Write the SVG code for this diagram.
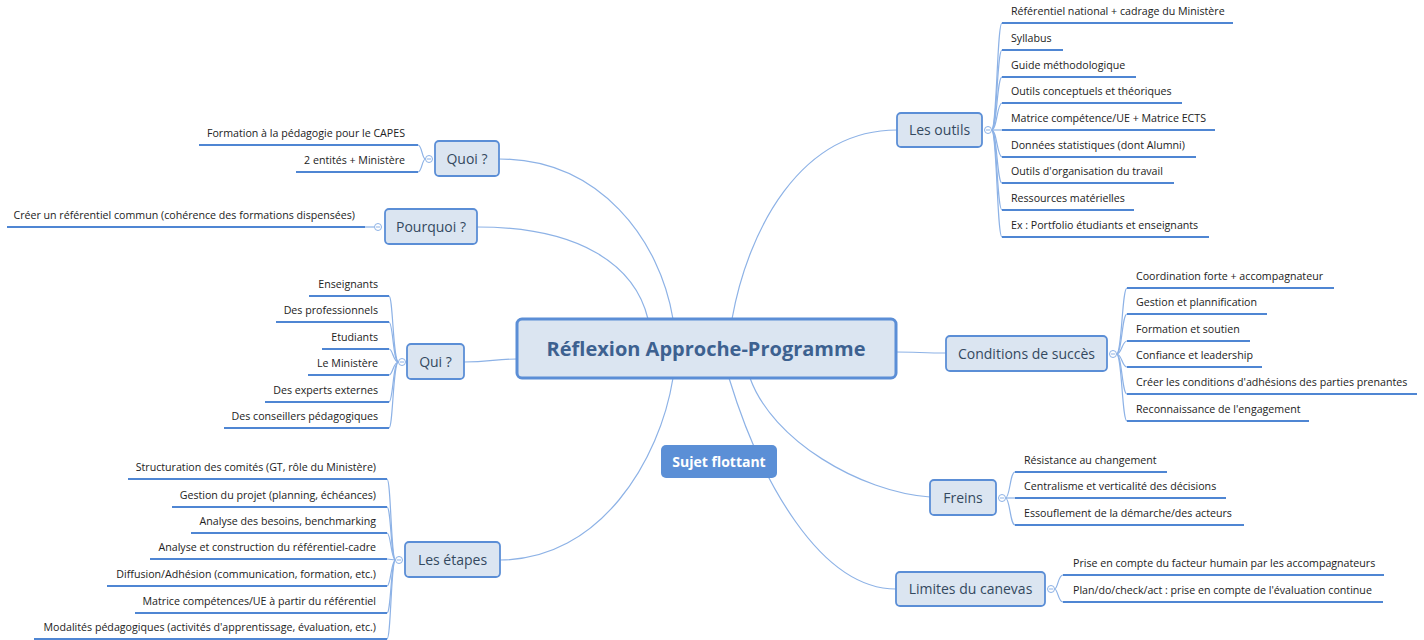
<svg xmlns="http://www.w3.org/2000/svg" width="1424" height="640" viewBox="0 0 1424 640">
<style>
.bg{fill:#ffffff}
.conn{fill:none;stroke:#8db2e6;stroke-width:1.2}
.ul{fill:none;stroke:#4f86d3;stroke-width:2.2}
.box{fill:#dbe5f1;stroke:#5b8ed6;stroke-width:1.8}
.central{fill:#dbe5f1;stroke:#5b8ed6;stroke-width:3}
.float{fill:#5b8fd6;stroke:none}
.lbl{font-family:"Open Sans","DejaVu Sans",sans-serif;font-size:14px;fill:#34495f;text-anchor:middle;dominant-baseline:central}
.clbl{font-family:"Open Sans","DejaVu Sans",sans-serif;font-size:20px;font-weight:bold;fill:#3d6190;text-anchor:middle;dominant-baseline:central}
.flbl{font-family:"Open Sans","DejaVu Sans",sans-serif;font-size:14px;font-weight:bold;fill:#ffffff;text-anchor:middle;dominant-baseline:central}
.t{font-family:"Open Sans","DejaVu Sans",sans-serif;font-size:10.65px;fill:#222222}
.tl{text-anchor:end}
.tr{text-anchor:start}
.col{fill:#ffffff;stroke:#8db2e6;stroke-width:1}
.mn{stroke:#8db2e6;stroke-width:1}
</style>
<rect class="bg" x="0" y="0" width="1424" height="640"/>

<g id="connectors">
  <path class="conn" d="M499,159 C600,159 660,240 673,319"/>
  <path class="conn" d="M477,227 C580,227 635,265 648,319"/>
  <path class="conn" d="M464,362 C490,362 495,359 517,359"/>
  <path class="conn" d="M500,560 C600,560 660,460 673,378"/>
  <path class="conn" d="M897,130 C800,130 748,230 732,319"/>
  <path class="conn" d="M946,353 C925,353 915,352 896,352"/>
  <path class="conn" d="M930,497 C860,492 772,440 750,378"/>
  <path class="conn" d="M896,589 C820,589 760,480 729,378"/>

  <path class="conn" d="M425.5,159 C422,159 422,145 418,145"/>
  <path class="conn" d="M425.5,159 C422,159 422,172 418,172"/>
  <path class="conn" d="M374.5,227 L365,227"/>
  <path class="conn" d="M398.5,362 C393,362 393,296 389,296"/>
  <path class="conn" d="M398.5,362 C393,362 393,322 389,322"/>
  <path class="conn" d="M398.5,362 C393,362 393,349 389,349"/>
  <path class="conn" d="M398.5,362 C393,362 393,375 389,375"/>
  <path class="conn" d="M398.5,362 C393,362 393,402 389,402"/>
  <path class="conn" d="M398.5,362 C393,362 393,428 389,428"/>
  <path class="conn" d="M395.5,560 C391,560 391,479 387,479"/>
  <path class="conn" d="M395.5,560 C391,560 391,507 387,507"/>
  <path class="conn" d="M395.5,560 C391,560 391,533 387,533"/>
  <path class="conn" d="M395.5,560 L387,559"/>
  <path class="conn" d="M395.5,560 C391,560 391,586 387,586"/>
  <path class="conn" d="M395.5,560 C391,560 391,613 387,613"/>
  <path class="conn" d="M395.5,560 C391,560 391,639 387,639"/>
  <path class="conn" d="M991.5,130 C997,130 997,23 1002,23"/>
  <path class="conn" d="M991.5,130 C997,130 997,50 1002,50"/>
  <path class="conn" d="M991.5,130 C997,130 997,77 1002,77"/>
  <path class="conn" d="M991.5,130 C997,130 997,103 1002,103"/>
  <path class="conn" d="M991.5,130 L1002,130"/>
  <path class="conn" d="M991.5,130 C997,130 997,157 1002,157"/>
  <path class="conn" d="M991.5,130 C997,130 997,183 1002,183"/>
  <path class="conn" d="M991.5,130 C997,130 997,210 1002,210"/>
  <path class="conn" d="M991.5,130 C997,130 997,237 1002,237"/>
  <path class="conn" d="M1116.5,354 C1122,354 1122,288 1127,288"/>
  <path class="conn" d="M1116.5,354 C1122,354 1122,314 1127,314"/>
  <path class="conn" d="M1116.5,354 C1122,354 1122,341 1127,341"/>
  <path class="conn" d="M1116.5,354 C1122,354 1122,367 1127,367"/>
  <path class="conn" d="M1116.5,354 C1122,354 1122,394 1127,394"/>
  <path class="conn" d="M1116.5,354 C1122,354 1122,421 1127,421"/>
  <path class="conn" d="M1005.5,498 C1010,498 1010,472 1015,472"/>
  <path class="conn" d="M1005.5,498 L1015,498"/>
  <path class="conn" d="M1005.5,498 C1010,498 1010,525 1015,525"/>
  <path class="conn" d="M1054.5,589 C1058,589 1058,575 1063,575"/>
  <path class="conn" d="M1054.5,589 C1058,589 1058,602 1063,602"/>
</g>

<g id="central">
  <rect class="central" x="517" y="319" width="379" height="59" rx="5"/>
  <text class="clbl" x="706" y="348">Réflexion Approche-Programme</text>
</g>

<g id="sujet-flottant">
  <rect class="float" x="661" y="445" width="116" height="33" rx="5"/>
  <text class="flbl" x="719" y="461">Sujet flottant</text>
</g>

<g id="quoi">
  <rect class="box" x="435" y="141" width="64" height="35" rx="4"/>
  <text class="lbl" x="467" y="158">Quoi ?</text>
  <circle class="col" cx="429" cy="159" r="3.5"/><line class="mn" x1="427" y1="159" x2="431" y2="159"/>
  <line class="ul" x1="199" y1="145" x2="418" y2="145"/>
  <text class="t tl" x="405" y="137">Formation à la pédagogie pour le CAPES</text>
  <line class="ul" x1="296" y1="172" x2="418" y2="172"/>
  <text class="t tl" x="405" y="164">2 entités + Ministère</text>
</g>

<g id="pourquoi">
  <rect class="box" x="385" y="209" width="92" height="35" rx="4"/>
  <text class="lbl" x="431" y="226">Pourquoi ?</text>
  <circle class="col" cx="378" cy="227" r="3.5"/><line class="mn" x1="376" y1="227" x2="380" y2="227"/>
  <line class="ul" x1="7" y1="227" x2="365" y2="227"/>
  <text class="t tl" x="355" y="219">Créer un référentiel commun (cohérence des formations dispensées)</text>
</g>

<g id="qui">
  <rect class="box" x="407" y="344" width="57" height="35" rx="4"/>
  <text class="lbl" x="435.5" y="361">Qui ?</text>
  <circle class="col" cx="402" cy="362" r="3.5"/><line class="mn" x1="400" y1="362" x2="404" y2="362"/>
  <line class="ul" x1="309" y1="296" x2="389" y2="296"/>
  <text class="t tl" x="378" y="288">Enseignants</text>
  <line class="ul" x1="276" y1="322" x2="389" y2="322"/>
  <text class="t tl" x="378" y="314">Des professionnels</text>
  <line class="ul" x1="322" y1="349" x2="389" y2="349"/>
  <text class="t tl" x="378" y="341">Etudiants</text>
  <line class="ul" x1="308" y1="375" x2="389" y2="375"/>
  <text class="t tl" x="378" y="367">Le Ministère</text>
  <line class="ul" x1="265" y1="402" x2="389" y2="402"/>
  <text class="t tl" x="378" y="394">Des experts externes</text>
  <line class="ul" x1="224" y1="428" x2="389" y2="428"/>
  <text class="t tl" x="378" y="420">Des conseillers pédagogiques</text>
</g>

<g id="les-etapes">
  <rect class="box" x="405" y="542" width="95" height="35" rx="4"/>
  <text class="lbl" x="452.5" y="559">Les étapes</text>
  <circle class="col" cx="399" cy="560" r="3.5"/><line class="mn" x1="397" y1="560" x2="401" y2="560"/>
  <line class="ul" x1="128" y1="479" x2="387" y2="479"/>
  <text class="t tl" x="376" y="471">Structuration des comités (GT, rôle du Ministère)</text>
  <line class="ul" x1="172" y1="507" x2="387" y2="507"/>
  <text class="t tl" x="376" y="499">Gestion du projet (planning, échéances)</text>
  <line class="ul" x1="191" y1="533" x2="387" y2="533"/>
  <text class="t tl" x="376" y="525">Analyse des besoins, benchmarking</text>
  <line class="ul" x1="150" y1="559" x2="387" y2="559"/>
  <text class="t tl" x="376" y="551">Analyse et construction du référentiel-cadre</text>
  <line class="ul" x1="107" y1="586" x2="387" y2="586"/>
  <text class="t tl" x="376" y="578">Diffusion/Adhésion (communication, formation, etc.)</text>
  <line class="ul" x1="135" y1="613" x2="387" y2="613"/>
  <text class="t tl" x="376" y="605">Matrice compétences/UE à partir du référentiel</text>
  <line class="ul" x1="34" y1="639" x2="387" y2="639"/>
  <text class="t tl" x="376" y="631">Modalités pédagogiques (activités d'apprentissage, évaluation, etc.)</text>
</g>

<g id="les-outils">
  <rect class="box" x="897" y="113" width="85" height="34" rx="4"/>
  <text class="lbl" x="939.5" y="129">Les outils</text>
  <circle class="col" cx="988" cy="130" r="3.5"/><line class="mn" x1="986" y1="130" x2="990" y2="130"/>
  <line class="ul" x1="1002" y1="23" x2="1233" y2="23"/>
  <text class="t tr" x="1011" y="15">Référentiel national + cadrage du Ministère</text>
  <line class="ul" x1="1002" y1="50" x2="1063" y2="50"/>
  <text class="t tr" x="1011" y="42">Syllabus</text>
  <line class="ul" x1="1002" y1="77" x2="1136" y2="77"/>
  <text class="t tr" x="1011" y="69">Guide méthodologique</text>
  <line class="ul" x1="1002" y1="103" x2="1182" y2="103"/>
  <text class="t tr" x="1011" y="95">Outils conceptuels et théoriques</text>
  <line class="ul" x1="1002" y1="130" x2="1215" y2="130"/>
  <text class="t tr" x="1011" y="122">Matrice compétence/UE + Matrice ECTS</text>
  <line class="ul" x1="1002" y1="157" x2="1196" y2="157"/>
  <text class="t tr" x="1011" y="149">Données statistiques (dont Alumni)</text>
  <line class="ul" x1="1002" y1="183" x2="1174" y2="183"/>
  <text class="t tr" x="1011" y="175">Outils d'organisation du travail</text>
  <line class="ul" x1="1002" y1="210" x2="1134" y2="210"/>
  <text class="t tr" x="1011" y="202">Ressources matérielles</text>
  <line class="ul" x1="1002" y1="237" x2="1209" y2="237"/>
  <text class="t tr" x="1011" y="229">Ex : Portfolio étudiants et enseignants</text>
</g>

<g id="conditions-de-succes">
  <rect class="box" x="946" y="336" width="161" height="35" rx="4"/>
  <text class="lbl" x="1026.5" y="353">Conditions de succès</text>
  <circle class="col" cx="1113" cy="354" r="3.5"/><line class="mn" x1="1111" y1="354" x2="1115" y2="354"/>
  <line class="ul" x1="1127" y1="288" x2="1334" y2="288"/>
  <text class="t tr" x="1136" y="280">Coordination forte + accompagnateur</text>
  <line class="ul" x1="1127" y1="314" x2="1267" y2="314"/>
  <text class="t tr" x="1136" y="306">Gestion et plannification</text>
  <line class="ul" x1="1127" y1="341" x2="1250" y2="341"/>
  <text class="t tr" x="1136" y="333">Formation et soutien</text>
  <line class="ul" x1="1127" y1="367" x2="1262" y2="367"/>
  <text class="t tr" x="1136" y="359">Confiance et leadership</text>
  <line class="ul" x1="1127" y1="394" x2="1417" y2="394"/>
  <text class="t tr" x="1136" y="386">Créer les conditions d'adhésions des parties prenantes</text>
  <line class="ul" x1="1127" y1="421" x2="1309" y2="421"/>
  <text class="t tr" x="1136" y="413">Reconnaissance de l'engagement</text>
</g>

<g id="freins">
  <rect class="box" x="930" y="480" width="66" height="35" rx="4"/>
  <text class="lbl" x="963" y="497">Freins</text>
  <circle class="col" cx="1002" cy="498" r="3.5"/><line class="mn" x1="1000" y1="498" x2="1004" y2="498"/>
  <line class="ul" x1="1015" y1="472" x2="1167" y2="472"/>
  <text class="t tr" x="1024" y="464">Résistance au changement</text>
  <line class="ul" x1="1015" y1="498" x2="1226" y2="498"/>
  <text class="t tr" x="1024" y="490">Centralisme et verticalité des décisions</text>
  <line class="ul" x1="1015" y1="525" x2="1244" y2="525"/>
  <text class="t tr" x="1024" y="517">Essouflement de la démarche/des acteurs</text>
</g>

<g id="limites-du-canevas">
  <rect class="box" x="896" y="572" width="149" height="34" rx="4"/>
  <text class="lbl" x="970.5" y="588">Limites du canevas</text>
  <circle class="col" cx="1051" cy="589" r="3.5"/><line class="mn" x1="1049" y1="589" x2="1053" y2="589"/>
  <line class="ul" x1="1063" y1="575" x2="1384" y2="575"/>
  <text class="t tr" x="1073" y="567">Prise en compte du facteur humain par les accompagnateurs</text>
  <line class="ul" x1="1063" y1="602" x2="1383" y2="602"/>
  <text class="t tr" x="1073" y="594">Plan/do/check/act : prise en compte de l'évaluation continue</text>
</g>
</svg>
